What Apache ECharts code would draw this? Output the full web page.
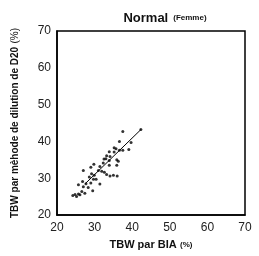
<!DOCTYPE html>
<html><head><meta charset="utf-8">
<script src="https://cdn.jsdelivr.net/npm/echarts@6/dist/echarts.min.js"></script>
<style>html,body{margin:0;padding:0;background:#fff}#c{width:259px;height:256px}</style>
</head><body><div id="c"></div>
<script>
var xTicks = [20, 30, 40, 50, 60, 70];
var yTicks = [20, 30, 40, 50, 60, 70];
var pointsX = [42.3,37.5,36.6,39.7,35.2,35.7,33.9,35.2,36.6,37.5,39.1,33.2,34.1,32.5,33.0,35.9,36.3,33.9,29.8,27.0,29.0,31.4,32.3,33.9,35.9,31.0,31.9,32.6,33.2,34.1,35.0,36.0,29.2,29.9,28.6,29.7,30.4,31.4,29.0,27.7,26.8,25.7,27.0,28.3,29.5,26.6,27.4,25.7,24.8,24.2,25.2,26.1];
var pointsY = [43.2,42.7,40.0,39.7,38.3,38.0,37.2,37.1,37.6,37.6,37.8,36.1,35.9,35.2,35.3,35.0,34.6,34.8,33.8,32.1,33.0,33.2,34.1,33.5,33.5,32.1,31.9,31.6,31.0,30.6,30.8,30.6,31.2,30.8,30.3,29.7,29.7,28.4,28.7,28.5,29.1,28.2,27.7,27.5,26.6,26.4,25.9,25.7,25.6,25.3,25.0,25.5];
var lineX = [27.5, 42.3];
var lineY = [28.5, 43.2];

var FONT = '"Liberation Sans",Arial,sans-serif';
var pts = pointsX.map(function(x,i){return [x, pointsY[i]];});
var ln = lineX.map(function(x,i){return [x, lineY[i]];});

var chart = echarts.init(document.getElementById('c'), null, {renderer:'canvas'});
chart.setOption({
  animation:false,
  title:{
    text:'{a|Normal} {b|(Femme)}',
    left:160, textAlign:'center', top:4,
    textStyle:{rich:{
      a:{fontFamily:FONT,fontWeight:'bold',fontSize:13,color:'#111'},
      b:{fontFamily:FONT,fontWeight:'bold',fontSize:8,color:'#111'}
    }}
  },
  grid:{left:57,right:14,top:31,bottom:36,show:true,borderColor:'#000',borderWidth:1.5,backgroundColor:'transparent'},
  xAxis:{
    type:'value',min:xTicks[0],max:xTicks[xTicks.length-1],interval:10,
    axisLine:{show:true,lineStyle:{color:'#000',width:1.5}},
    axisTick:{show:false},splitLine:{show:false},
    axisLabel:{fontFamily:FONT,fontSize:12,color:'#222',margin:7},
    name:'{a|TBW par BIA} {b|(%)}',nameLocation:'middle',nameGap:24,
    nameTextStyle:{rich:{
      a:{fontFamily:FONT,fontWeight:'bold',fontSize:11,color:'#111'},
      b:{fontFamily:FONT,fontWeight:'bold',fontSize:8,color:'#111'}
    }}
  },
  yAxis:{
    type:'value',min:yTicks[0],max:yTicks[yTicks.length-1],interval:10,
    axisLine:{show:true,lineStyle:{color:'#000',width:1.5}},
    axisTick:{show:false},splitLine:{show:false},
    axisLabel:{fontFamily:FONT,fontSize:12,color:'#222',margin:6},
    name:'{a|TBW par mèhode de dilution de D20} {b|(%)}',nameLocation:'middle',nameGap:36,
    nameTextStyle:{rich:{
      a:{fontFamily:FONT,fontWeight:'bold',fontSize:10,color:'#111'},
      b:{fontFamily:FONT,fontWeight:'normal',fontSize:10,color:'#111'}
    }}
  },
  series:[
    {type:'scatter',data:pts,symbol:'circle',symbolSize:3,itemStyle:{color:'#000'},silent:true},
    {type:'line',data:ln,symbol:'none',lineStyle:{color:'#000',width:1},silent:true}
  ]
});
</script></body></html>
